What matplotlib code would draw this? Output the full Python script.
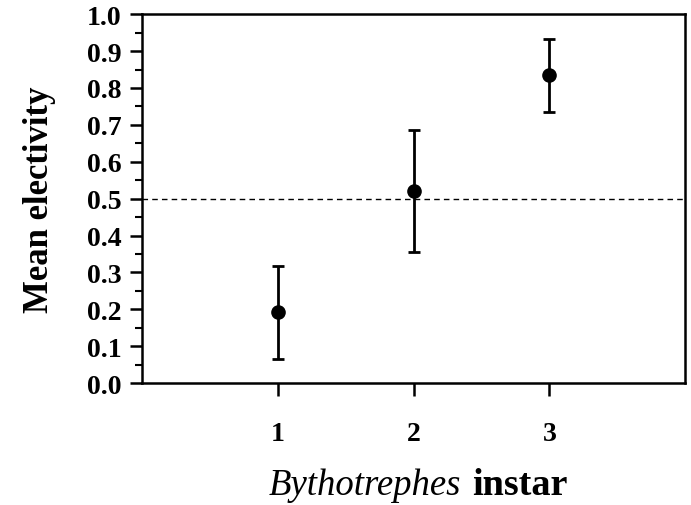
import matplotlib
matplotlib.use('Agg')
import matplotlib.pyplot as plt
from matplotlib.ticker import MultipleLocator

# data
instar = [1, 2, 3]
mean_elect = [0.192, 0.520, 0.835]
err_low = [0.127, 0.165, 0.100]
err_high = [0.125, 0.166, 0.098]
y_ticks = [0.0, 0.1, 0.2, 0.3, 0.4, 0.5, 0.6, 0.7, 0.8, 0.9, 1.0]
x_ticks = [1, 2, 3]

plt.rcParams['font.family'] = 'Liberation Serif'

fig = plt.figure(figsize=(6.91, 5.06), dpi=100)
ax = fig.add_axes([0.2055, 0.241, 0.786, 0.729])

ax.axhline(0.5, color='black', linestyle=(0, (4, 3)), linewidth=1)
ax.errorbar(instar, mean_elect, yerr=[err_low, err_high], fmt='o', color='black',
            markersize=9.5, capsize=4.5, elinewidth=2, capthick=2)

ax.set_xlim(0, 4)
ax.set_ylim(0, 1.0)
ax.set_xticks(x_ticks)
ax.set_yticks(y_ticks)
ax.set_yticklabels(['%.1f' % v for v in y_ticks])
ax.yaxis.set_minor_locator(MultipleLocator(0.05))

for s in ax.spines.values():
    s.set_linewidth(1.8)

ax.tick_params(axis='both', which='major', direction='out', length=9, width=1.8,
               labelsize=20, pad=6)
ax.tick_params(axis='y', which='minor', direction='out', length=5, width=1.5)
ax.tick_params(axis='x', pad=18)
for lab in ax.get_xticklabels() + ax.get_yticklabels():
    lab.set_fontweight('bold')

ax.set_ylabel('Mean electivity', fontsize=25, fontweight='bold', labelpad=22)

fig.text(0.667, 0.022, 'Bythotrephes', fontsize=26.5, style='italic', ha='right', va='baseline')
fig.text(0.683, 0.022, 'instar', fontsize=27.5, fontweight='bold', ha='left', va='baseline')

fig.savefig('out.png', dpi=100)
